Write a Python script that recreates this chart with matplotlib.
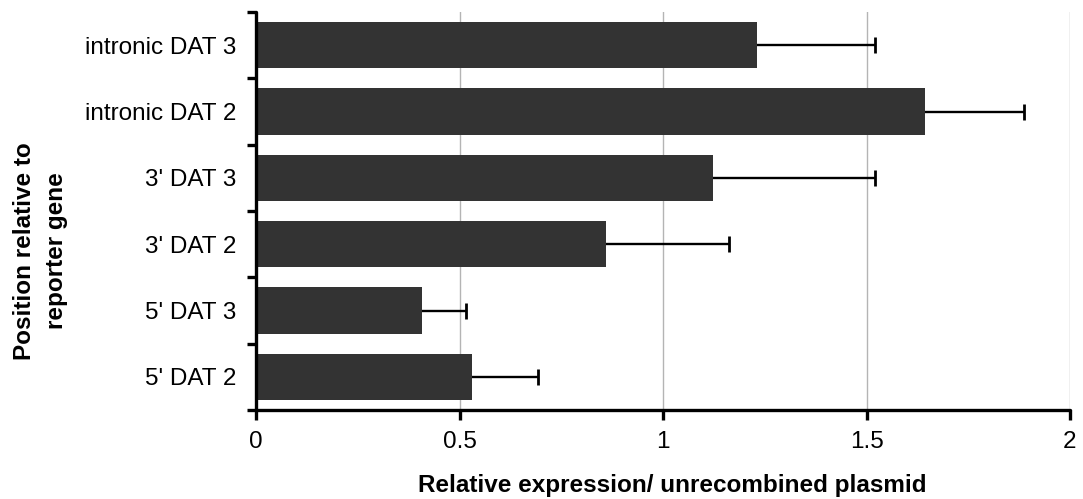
import matplotlib
matplotlib.use("Agg")
import matplotlib.pyplot as plt
import numpy as np

categories = ["5' DAT 2", "5' DAT 3", "3' DAT 2", "3' DAT 3", "intronic DAT 2", "intronic DAT 3"]
values = [0.530, 0.409, 0.861, 1.122, 1.643, 1.232]
errors = [0.164, 0.108, 0.302, 0.399, 0.244, 0.289]
xticks = [0, 0.5, 1, 1.5, 2]
xticklabels = ["0", "0.5", "1", "1.5", "2"]

plt.rcParams['font.family'] = ['Liberation Sans', 'DejaVu Sans']

fig = plt.figure(figsize=(10.83, 4.99), dpi=100)
ax = fig.add_axes([256/1083, 1-410/499, (1070-256)/1083, (410-12)/499])

y = np.arange(len(categories))
ax.barh(y, values, height=0.7, color='#333333', zorder=2)
eb = ax.errorbar(values, y, xerr=[np.zeros(len(errors)), errors], fmt='none',
                 ecolor='black', elinewidth=1.7, capsize=5.6, capthick=2.0, zorder=1.5)
caps = eb[1]
if len(caps) >= 2:
    caps[0].set_visible(False)

ax.set_xlim(0, 2)
ax.set_ylim(-0.5, len(categories) - 0.5)
ax.set_xticks(xticks)
ax.set_xticklabels(xticklabels, fontsize=17.5)
ax.set_yticks(y)
ax.set_yticklabels(categories, fontsize=17.5)
ax.set_yticks(np.arange(len(categories) + 1) - 0.5, minor=True)

ax.tick_params(axis='y', which='major', length=0, pad=14)
ax.tick_params(axis='y', which='minor', length=6.5, width=2.4, direction='out')
ax.tick_params(axis='x', which='major', length=7, width=2.4, direction='out', pad=8)
for t in ax.yaxis.get_minorticklines() + ax.xaxis.get_majorticklines():
    t.set_solid_capstyle('round')
    t.set_dash_capstyle('round')

ax.xaxis.grid(True, color='#b4b4b4', linewidth=1.0, zorder=0)
ax.set_axisbelow(True)

for s in ['top', 'right']:
    ax.spines[s].set_visible(False)
for s in ['left', 'bottom']:
    ax.spines[s].set_linewidth(2.4)
    ax.spines[s].set_capstyle('round')

ax.set_xlabel("Relative expression/ unrecombined plasmid", fontsize=17.5, fontweight='bold')
ax.xaxis.set_label_coords(0.511, -0.16)
ax.set_ylabel("Position relative to\nreporter gene", fontsize=17.5, fontweight='bold', linespacing=1.5)
ax.yaxis.set_label_coords(-0.231, 0.40)

fig.savefig("out.png", dpi=100)
